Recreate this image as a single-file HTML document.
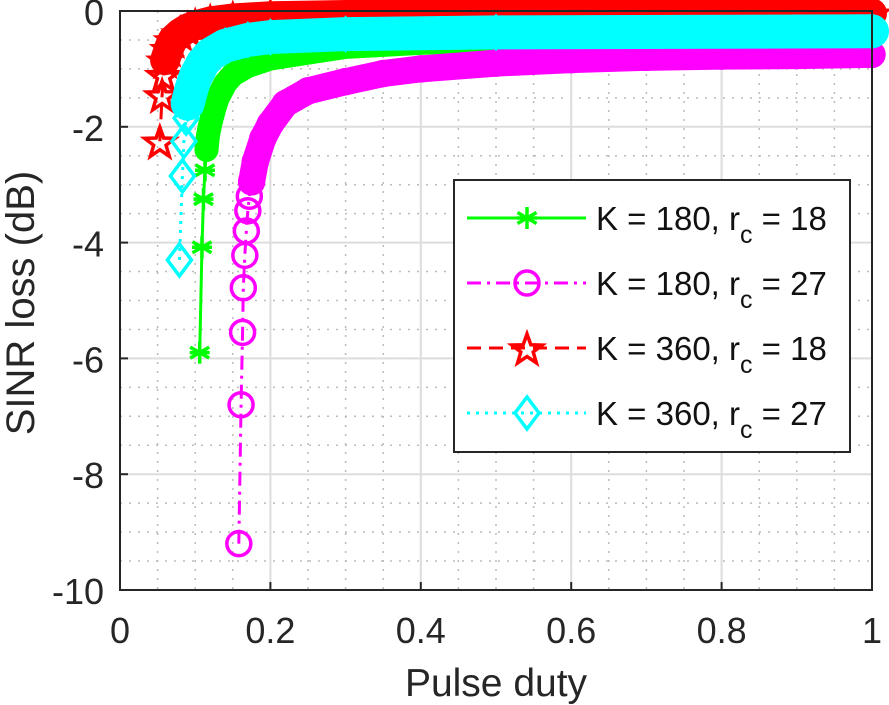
<!DOCTYPE html>
<html><head><meta charset="utf-8"><style>
body{margin:0;background:#fff;}
svg{display:block;font-family:"Liberation Sans",sans-serif;}
</style></head><body>
<svg id="chart" width="889" height="705" viewBox="0 0 889 705">
<g id="grid"></g>
<g id="series"></g>
<g id="axes"></g>
<text x="496" y="696" font-size="39" text-anchor="middle" fill="#262626">Pulse duty</text>
<text transform="translate(34,303) rotate(-90)" font-size="40" text-anchor="middle" fill="#262626">SINR loss (dB)</text>
<g id="legend"></g>
</svg>
<script>
const xTicks=[0,0.2,0.4,0.6,0.8,1];
const xTickLabels=["0","0.2","0.4","0.6","0.8","1"];
const yTicks=[-10,-8,-6,-4,-2,0];
const yTickLabels=["-10","-8","-6","-4","-2","0"];
const seriesNames=["K = 180, r","K = 180, r","K = 360, r","K = 360, r"];
const seriesSubs=["18","27","18","27"];
const greenX=[0.106,0.109,0.111,0.113,0.115,0.117,0.12,0.125,0.13,0.14,0.15,0.17,0.2,0.25,0.3,0.4,0.5,0.7,1.0];
const greenY=[-5.9,-4.08,-3.25,-2.75,-2.4,-2.15,-1.95,-1.7,-1.5,-1.25,-1.1,-0.95,-0.82,-0.72,-0.62,-0.55,-0.5,-0.45,-0.4];
const magX=[0.158,0.161,0.163,0.164,0.166,0.168,0.17,0.172,0.175,0.18,0.19,0.2,0.22,0.25,0.3,0.35,0.4,0.5,0.6,0.7,0.8,0.9,1.0];
const magY=[-9.2,-6.8,-5.55,-4.78,-4.22,-3.8,-3.45,-3.2,-2.95,-2.6,-2.2,-1.95,-1.6,-1.38,-1.22,-1.08,-1.0,-0.9,-0.84,-0.8,-0.78,-0.77,-0.75];
const redX=[0.053,0.056,0.058,0.06,0.065,0.07,0.08,0.09,0.1,0.12,0.15,0.2,0.3,0.5,1.0];
const redY=[-2.25,-1.45,-1.1,-0.85,-0.65,-0.5,-0.38,-0.3,-0.25,-0.18,-0.13,-0.09,-0.07,-0.05,-0.04];
const cyanX=[0.079,0.083,0.085,0.088,0.09,0.095,0.1,0.11,0.12,0.14,0.17,0.2,0.3,0.5,1.0];
const cyanY=[-4.3,-2.85,-2.25,-1.85,-1.6,-1.35,-1.15,-0.9,-0.75,-0.6,-0.5,-0.45,-0.4,-0.37,-0.35];

const L=120,R=872,T=11,B=590;
const sx=v=>L+(v-0)/(1-0)*(R-L);
const sy=v=>T+(0-v)/(0-(-10))*(B-T);
const NS="http://www.w3.org/2000/svg";
function mk(tag,attrs,parent){const e=document.createElementNS(NS,tag);for(const k in attrs)e.setAttribute(k,attrs[k]);parent.appendChild(e);return e;}

const grid=document.getElementById('grid');
for(let v=0.05;v<1;v+=0.05){const x=sx(v);const g=mk('line',{x1:x,x2:x,y1:T,y2:B,stroke:'#bbb','stroke-width':1.5,'stroke-dasharray':'2,7'},grid);
}
for(let v=-9.5;v<0;v+=0.5){const y=sy(v);const g=mk('line',{x1:L,x2:R,y1:y,y2:y,stroke:'#bbb','stroke-width':1.5,'stroke-dasharray':'2,7'},grid);
}
xTicks.forEach(v=>{const x=sx(v);const g=mk('line',{x1:x,x2:x,y1:T,y2:B,stroke:'#ddd','stroke-width':2},grid);
});
yTicks.forEach(v=>{const y=sy(v);const g=mk('line',{x1:L,x2:R,y1:y,y2:y,stroke:'#ddd','stroke-width':2},grid);
});

const axes=document.getElementById('axes');
const frame=mk('rect',{x:L,y:T,width:R-L,height:B-T,fill:'none',stroke:'#262626','stroke-width':2},axes);

xTicks.forEach((v,i)=>{const x=sx(v);
const t=mk('line',{x1:x,x2:x,y1:B,y2:B-8,stroke:'#262626','stroke-width':2},axes);
const tx=mk('text',{x:x,y:643,'font-size':36,'text-anchor':'middle',fill:'#262626'},axes);tx.textContent=xTickLabels[i];
});
yTicks.forEach((v,i)=>{const y=sy(v);
const t=mk('line',{x1:L,x2:L+8,y1:y,y2:y,stroke:'#262626','stroke-width':2},axes);
const tx=mk('text',{x:104,y:y+14,'font-size':36,'text-anchor':'end',fill:'#262626'},axes);tx.textContent=yTickLabels[i];
});

function marker(type,x,y,color,p){
  let e;
  if(type==='star6'){const r=11;let d='';for(let k=0;k<3;k++){const a=k*Math.PI/3+Math.PI/2;d+=`M${x-r*Math.cos(a)},${y-r*Math.sin(a)}L${x+r*Math.cos(a)},${y+r*Math.sin(a)}`;}
    d+=`M${x-10},${y}L${x+10},${y}`;
    e=mk('path',{d:d,stroke:color,'stroke-width':3.5,fill:'none'},p);}
  else if(type==='circle'){e=mk('circle',{cx:x,cy:y,r:12,stroke:color,'stroke-width':3.5,fill:'none'},p);}
  else if(type==='pentagram'){const ro=16,ri=6.5;let pts=[];for(let k=0;k<10;k++){const a=-Math.PI/2+k*Math.PI/5;const r=k%2?ri:ro;pts.push((x+r*Math.cos(a))+','+(y+2+r*Math.sin(a)));}
    e=mk('polygon',{points:pts.join(' '),stroke:color,'stroke-width':3.5,fill:'none'},p);}
  else {const w=12,h=16;e=mk('polygon',{points:`${x},${y-h} ${x+w},${y} ${x},${y+h} ${x-w},${y}`,stroke:color,'stroke-width':3.5,fill:'none'},p);}
  return e;
}
const cfg=[
 {name:'series-k180-rc18',xs:greenX,ys:greenY,color:'#00ff00',dash:'',m:'star6',band:24,bandFrom:4},
 {name:'series-k180-rc27',xs:magX,ys:magY,color:'#ff00ff',dash:'14,6,3,6',m:'circle',band:27,bandFrom:8},
 {name:'series-k360-rc18',xs:redX,ys:redY,color:'#ff0000',dash:'14,8',m:'pentagram',band:30,bandFrom:3},
 {name:'series-k360-rc27',xs:cyanX,ys:cyanY,color:'#00ffff',dash:'3,6',m:'diamond',band:34,bandFrom:4}
];
const sg=document.getElementById('series');
cfg.forEach(c=>{
  const g=mk('g',{},sg);
  const pts=c.xs.map((v,i)=>sx(v)+','+sy(c.ys[i]));
  const bandPts=pts.slice(c.bandFrom);
  const band=mk('polyline',{points:bandPts.join(' '),fill:'none',stroke:c.color,'stroke-width':c.band,'stroke-linejoin':'round','stroke-linecap':'round'},g);
  
  const ln=mk('polyline',{points:pts.join(' '),fill:'none',stroke:c.color,'stroke-width':3,'stroke-dasharray':c.dash},g);
  
  c.xs.forEach((v,i)=>{const m=marker(c.m,sx(v),sy(c.ys[i]),c.color,g);
    });
});

const lg=document.getElementById('legend');
const box=mk('rect',{x:454,y:180,width:396,height:272,fill:'#fff',stroke:'#262626','stroke-width':2},lg);

const ly=[218,283,348,413];
cfg.forEach((c,i)=>{
  const g=mk('g',{},lg);
  mk('line',{x1:467,x2:586,y1:ly[i],y2:ly[i],stroke:c.color,'stroke-width':3,'stroke-dasharray':c.dash},g);
  marker(c.m,527,ly[i],c.color,g);
  const t=mk('text',{x:596,y:ly[i]+12,'font-size':33,fill:'#111'},g);
  t.textContent=seriesNames[i];
  const sub=mk('tspan',{dy:13,'font-size':25},t);sub.textContent='c';
  const rest=mk('tspan',{dy:-13,'font-size':33},t);rest.textContent=' = '+seriesSubs[i];
});
</script>
</body></html>
